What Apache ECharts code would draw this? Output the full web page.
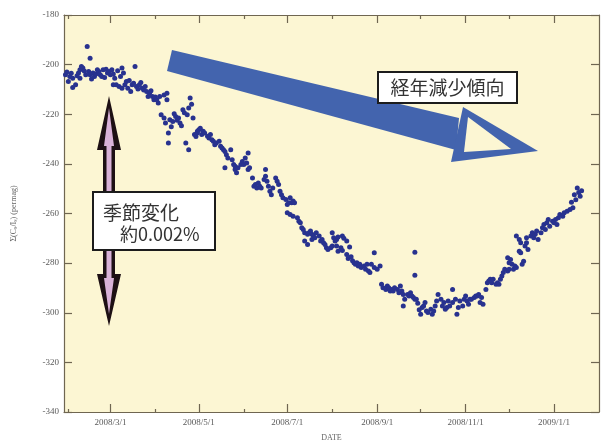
<!DOCTYPE html>
<html>
<head>
<meta charset="utf-8">
<script src="https://cdn.jsdelivr.net/npm/echarts@6/dist/echarts.min.js"></script>
<style>
  html, body { margin: 0; padding: 0; background: #ffffff; }
  #chart { width: 607px; height: 447px; }
</style>
</head>
<body>
<div id="chart"></div>
<script>
// Daily readings, grouped by month: day-of-month and value for each sample.
const months = ['2008-01', '2008-02', '2008-03', '2008-04', '2008-05', '2008-06', '2008-07',
                '2008-08', '2008-09', '2008-10', '2008-11', '2008-12', '2009-01'];

const sampleDays = [
  [30, 31],
  [1, 2, 3, 4, 4, 6, 7, 8, 9, 9, 10, 11, 12, 13, 14, 15, 16, 16, 17, 18, 19, 20, 21, 22, 23, 24, 25, 26, 27, 28, 29],
  [1, 2, 3, 3, 4, 5, 6, 7, 8, 9, 9, 10, 11, 12, 13, 14, 15, 16, 17, 18, 19, 20, 21, 22, 23, 24, 25, 26, 27, 28, 29, 30, 31],
  [1, 2, 3, 4, 5, 7, 7, 8, 9, 9, 10, 10, 11, 12, 13, 14, 15, 16, 17, 18, 19, 20, 21, 22, 23, 24, 24, 25, 26, 27, 28, 29, 30, 30],
  [1, 2, 3, 4, 5, 7, 8, 9, 10, 11, 12, 13, 15, 16, 17, 18, 19, 19, 20, 21, 23, 24, 25, 26, 26, 27, 28, 30, 31],
  [1, 2, 3, 4, 4, 5, 7, 8, 9, 10, 11, 12, 13, 15, 16, 16, 17, 18, 19, 20, 21, 23, 24, 25, 26, 27, 28, 30],
  [1, 1, 2, 3, 3, 4, 5, 5, 6, 8, 9, 10, 11, 12, 13, 13, 15, 15, 16, 17, 18, 18, 19, 20, 21, 23, 24, 25, 26, 27, 28, 29, 31],
  [1, 1, 2, 3, 4, 4, 5, 5, 7, 8, 8, 9, 11, 11, 12, 13, 14, 15, 16, 17, 18, 19, 20, 21, 23, 24, 25, 26, 27, 28, 30, 30],
  [1, 3, 4, 5, 7, 8, 9, 10, 11, 12, 13, 15, 16, 17, 18, 19, 19, 20, 22, 23, 24, 25, 26, 27, 27, 27, 28, 29, 30],
  [1, 2, 3, 4, 5, 6, 8, 9, 10, 11, 12, 13, 15, 16, 17, 18, 19, 20, 21, 23, 23, 25, 26, 27, 28, 30, 31],
  [1, 2, 3, 4, 5, 7, 8, 9, 10, 11, 12, 13, 15, 16, 17, 18, 19, 20, 22, 23, 24, 25, 26, 27, 28, 30, 30],
  [1, 1, 2, 3, 4, 5, 6, 6, 8, 8, 9, 9, 10, 11, 12, 13, 13, 14, 16, 17, 18, 19, 20, 21, 23, 24, 25, 26, 27, 28, 29, 31],
  [1, 2, 3, 4, 5, 7, 8, 10, 12, 13, 14, 15, 16, 17, 18, 19, 20]
];

const sampleValues = [
  [-204.1, -203.0],
  [-206.8, -204.8, -203.5, -205.5, -209.2, -208.1, -204.5, -203.4, -205.5, -202.1, -200.8, -201.4, -202.6, -204.1, -192.7, -202.8,
   -197.4, -204.1, -205.8, -203.4, -204.8, -203.8, -202.1, -202.8, -204.1, -204.8, -202.1, -205.2, -201.9, -203.4, -202.8],
  [-204.1, -202.1, -203.8, -208.1, -205.5, -208.1, -202.5, -208.8, -204.8, -201.4, -209.5, -203.4, -208.1, -206.8, -209.5, -206.4,
   -210.8, -208.1, -207.5, -200.8, -208.8, -209.8, -208.1, -207.2, -209.5, -210.2, -208.8, -210.8, -212.8, -211.6, -210.5, -212.8, -214.2],
  [-213.0, -214.2, -215.5, -212.8, -220.2, -212.2, -221.5, -223.5, -211.5, -214.2, -227.6, -231.6, -222.2, -225.0, -222.9, -219.8,
   -220.9, -222.4, -221.5, -223.5, -224.6, -218.2, -219.4, -231.6, -220.2, -217.5, -234.3, -213.5, -216.0, -221.5, -228.2, -229.0, -226.9, -227.6],
  [-226.2, -225.6, -228.2, -226.9, -227.6, -228.9, -229.6, -228.2, -230.3, -230.9, -232.3, -231.6, -230.9, -232.9, -233.6, -234.3,
   -235.0, -241.6, -236.3, -237.6, -234.3, -238.3, -240.3, -242.3, -241.0, -243.6, -241.6, -240.3, -239.0],
  [-240.3, -237.6, -239.6, -235.6, -242.3, -241.6, -245.7, -249.0, -248.3, -249.7, -247.7, -249.0, -249.7, -246.3, -245.0, -242.3,
   -247.0, -249.0, -251.0, -252.4, -249.7, -245.7, -247.0, -248.3, -251.0, -252.4, -253.7, -254.4],
  [-256.4, -259.7, -255.7, -253.7, -260.4, -255.7, -255.0, -261.1, -255.7, -261.7, -263.1, -263.7, -265.7, -266.4, -267.8, -271.1,
   -268.4, -272.5, -267.8, -267.1, -268.4, -270.5, -269.1, -269.8, -267.8, -269.1, -271.1, -270.5, -271.8, -272.5, -273.8, -274.5, -273.8],
  [-273.1, -267.8, -269.8, -271.1, -273.1, -270.5, -275.2, -269.5, -273.8, -269.1, -274.9, -270.0, -271.1, -276.5, -278.1, -273.5,
   -277.4, -279.0, -279.8, -280.5, -279.8, -281.2, -280.5, -281.8, -281.2, -282.5, -280.5, -283.2, -283.8, -280.5, -275.8, -281.8],
  [-282.5, -281.2, -288.5, -289.9, -290.6, -289.2, -289.9, -291.2, -290.6, -291.2, -289.9, -290.6, -291.9, -289.2, -291.2, -292.6,
   -297.3, -294.6, -292.6, -293.2, -291.9, -293.2, -293.9, -294.6, -275.6, -284.9, -294.6, -296.2, -298.8],
  [-300.6, -297.9, -297.3, -295.9, -299.3, -299.9, -298.6, -300.6, -299.3, -297.3, -295.3, -292.6, -294.6, -297.3, -295.9, -298.6,
   -297.9, -295.3, -297.3, -295.9, -290.6, -294.6, -300.6, -297.9, -295.3, -297.3, -294.6],
  [-293.2, -295.3, -296.6, -294.6, -294.6, -293.9, -293.2, -293.2, -292.6, -295.9, -293.9, -296.6, -290.6, -287.9, -287.2, -286.5,
   -287.9, -286.5, -288.5, -287.9, -288.5, -286.5, -285.2, -283.8, -282.5, -283.2, -277.8],
  [-282.5, -279.8, -278.5, -280.5, -282.5, -281.2, -281.8, -269.1, -270.5, -275.2, -271.8, -275.8, -280.5, -279.2, -273.1, -269.8,
   -271.8, -274.5, -269.1, -267.8, -269.8, -268.4, -267.1, -270.5, -267.8, -265.7, -264.4, -266.4, -263.7, -262.4, -265.1, -263.1],
  [-263.7, -262.4, -264.4, -261.7, -260.4, -261.1, -259.7, -259.1, -258.4, -255.5, -257.7, -252.4, -254.5, -249.7, -251.5, -253.0, -250.8]
];

// Axis range and tick marks
const dateRange = ['2008-01-29', '2009-02-01'];
const labelledDates = ['2008-03-01', '2008-05-01', '2008-07-01', '2008-09-01', '2008-11-01', '2009-01-01'];
const minorDates = ['2008-02-01', '2008-04-01', '2008-06-01', '2008-08-01', '2008-10-01', '2008-12-01'];
const valueRange = [-340, -180];
const valueStep = 20;

const AXIS_COLOR = '#6f6651';
const PLOT_BG = '#fcf6d3';
const DOT_COLOR = '#28328f';
const ARROW_BLUE = '#4364ae';

// Dates are kept as UTC day timestamps on a plain numeric axis.
const toTime = s => Date.parse(s + 'T00:00:00Z');
const pad = n => String(n).padStart(2, '0');

const points = [];
months.forEach((m, i) => {
  sampleDays[i].forEach((d, j) => {
    points.push([toTime(m + '-' + pad(d)), sampleValues[i][j]]);
  });
});

const majorTimes = labelledDates.map(toTime);
const minorTimes = minorDates.map(toTime);

function dateLabel(v) {
  const d = new Date(v);
  return d.getUTCFullYear() + '/' + (d.getUTCMonth() + 1) + '/' + d.getUTCDate();
}

function dateAxis(grid, position, ticks, tickLen, withLabels, withLine) {
  return {
    type: 'value',
    gridIndex: grid,
    position: position,
    min: toTime(dateRange[0]),
    max: toTime(dateRange[1]),
    scale: true,
    splitLine: { show: false },
    axisLine: { show: withLine, lineStyle: { color: AXIS_COLOR, width: 1.2 } },
    axisTick: { show: true, inside: true, length: tickLen, customValues: ticks,
                lineStyle: { color: AXIS_COLOR, width: 1.2 } },
    axisLabel: withLabels ? {
      show: true, customValues: ticks, formatter: dateLabel, margin: 6,
      fontFamily: 'Liberation Serif', fontSize: 9, color: '#5a5a5a'
    } : { show: false },
    axisPointer: { show: false }
  };
}

function valueAxis(grid, position, withLabels, visible) {
  return {
    type: 'value',
    gridIndex: grid,
    position: position,
    show: visible,
    min: valueRange[0],
    max: valueRange[1],
    interval: valueStep,
    splitLine: { show: false },
    axisLine: { show: true, lineStyle: { color: AXIS_COLOR, width: 1.2 } },
    axisTick: { show: true, inside: true, length: 8, lineStyle: { color: AXIS_COLOR, width: 1.2 } },
    axisLabel: withLabels ? {
      show: true, margin: 5, fontFamily: 'Liberation Serif', fontSize: 9, color: '#5a5a5a'
    } : { show: false }
  };
}

const gridBox = { left: 64, right: 8, top: 15, bottom: 34 };

const yLeft = valueAxis(0, 'left', true, true);
yLeft.name = '{n|Σ(C}{s|s}{n|/I}{s|s}{n|) (permag)}';
yLeft.nameLocation = 'middle';
yLeft.nameRotate = 90;
yLeft.nameGap = 46;
yLeft.nameTextStyle = {
  rich: {
    n: { fontFamily: 'Liberation Serif', fontSize: 8, color: '#666' },
    s: { fontFamily: 'Liberation Serif', fontSize: 6, color: '#666', verticalAlign: 'bottom' }
  }
};

const xBottom = dateAxis(0, 'bottom', majorTimes, 8, true, true);
xBottom.name = 'DATE';
xBottom.nameLocation = 'middle';
xBottom.nameGap = 22;
xBottom.nameTextStyle = { fontFamily: 'Liberation Serif', fontSize: 8, color: '#666' };

const chart = echarts.init(document.getElementById('chart'), null, { renderer: 'canvas' });

chart.setOption({
  animation: false,
  backgroundColor: '#ffffff',
  grid: [
    Object.assign({ show: true, backgroundColor: PLOT_BG, borderWidth: 0 }, gridBox),
    Object.assign({ show: false }, gridBox)
  ],
  xAxis: [
    xBottom,
    dateAxis(0, 'top', majorTimes, 8, false, true),
    dateAxis(1, 'bottom', minorTimes, 4, false, false),
    dateAxis(1, 'top', minorTimes, 4, false, false)
  ],
  yAxis: [
    yLeft,
    valueAxis(0, 'right', false, true),
    valueAxis(1, 'left', false, false)
  ],
  series: [{
    type: 'scatter',
    xAxisIndex: 0,
    yAxisIndex: 0,
    data: points,
    symbol: 'circle',
    symbolSize: 5,
    itemStyle: { color: DOT_COLOR, opacity: 1 },
    z: 3
  }],
  graphic: [
    // long-term decline arrow
    { type: 'polygon', z: 100, shape: { points: [[172, 50], [459, 118], [456, 150], [167, 71]] },
      style: { fill: ARROW_BLUE } },
    { type: 'polygon', z: 101, shape: { points: [[463, 107], [538, 151], [451, 162]] },
      style: { fill: ARROW_BLUE } },
    { type: 'polygon', z: 102, shape: { points: [[468, 117], [511, 149], [464, 152]] },
      style: { fill: PLOT_BG } },
    { type: 'rect', z: 103, shape: { x: 378, y: 72, width: 139, height: 31 },
      style: { fill: '#ffffff', stroke: '#1c1c1c', lineWidth: 2 } },
    { type: 'text', z: 104, x: 447.5, y: 88,
      style: { text: '経年減少傾向', fontFamily: 'Noto Sans CJK JP', fontSize: 19, fill: '#333333',
               align: 'center', verticalAlign: 'middle' } },
    // seasonal amplitude double arrow
    { type: 'polygon', z: 100,
      shape: { points: [[109, 96], [121, 150], [115, 150], [115, 274], [121, 274], [109, 326],
                        [97, 274], [103, 274], [103, 150], [97, 150]] },
      style: { fill: '#1d1014' } },
    { type: 'polygon', z: 101,
      shape: { points: [[109, 108], [114, 146], [111.5, 146], [111.5, 278], [114, 278], [109, 314],
                        [104, 278], [106.5, 278], [106.5, 146], [104, 146]] },
      style: { fill: '#d9b2d8' } },
    { type: 'rect', z: 103, shape: { x: 93, y: 192, width: 122, height: 58 },
      style: { fill: '#ffffff', stroke: '#1c1c1c', lineWidth: 2 } },
    { type: 'text', z: 104, x: 103, y: 213,
      style: { text: '季節変化', fontFamily: 'Noto Sans CJK JP', fontSize: 19, fill: '#333333',
               align: 'left', verticalAlign: 'middle' } },
    { type: 'text', z: 104, x: 120, y: 234,
      style: { text: '約0.002%', fontFamily: 'Noto Sans CJK JP', fontSize: 18, fill: '#333333',
               align: 'left', verticalAlign: 'middle' } }
  ]
});
</script>
</body>
</html>
